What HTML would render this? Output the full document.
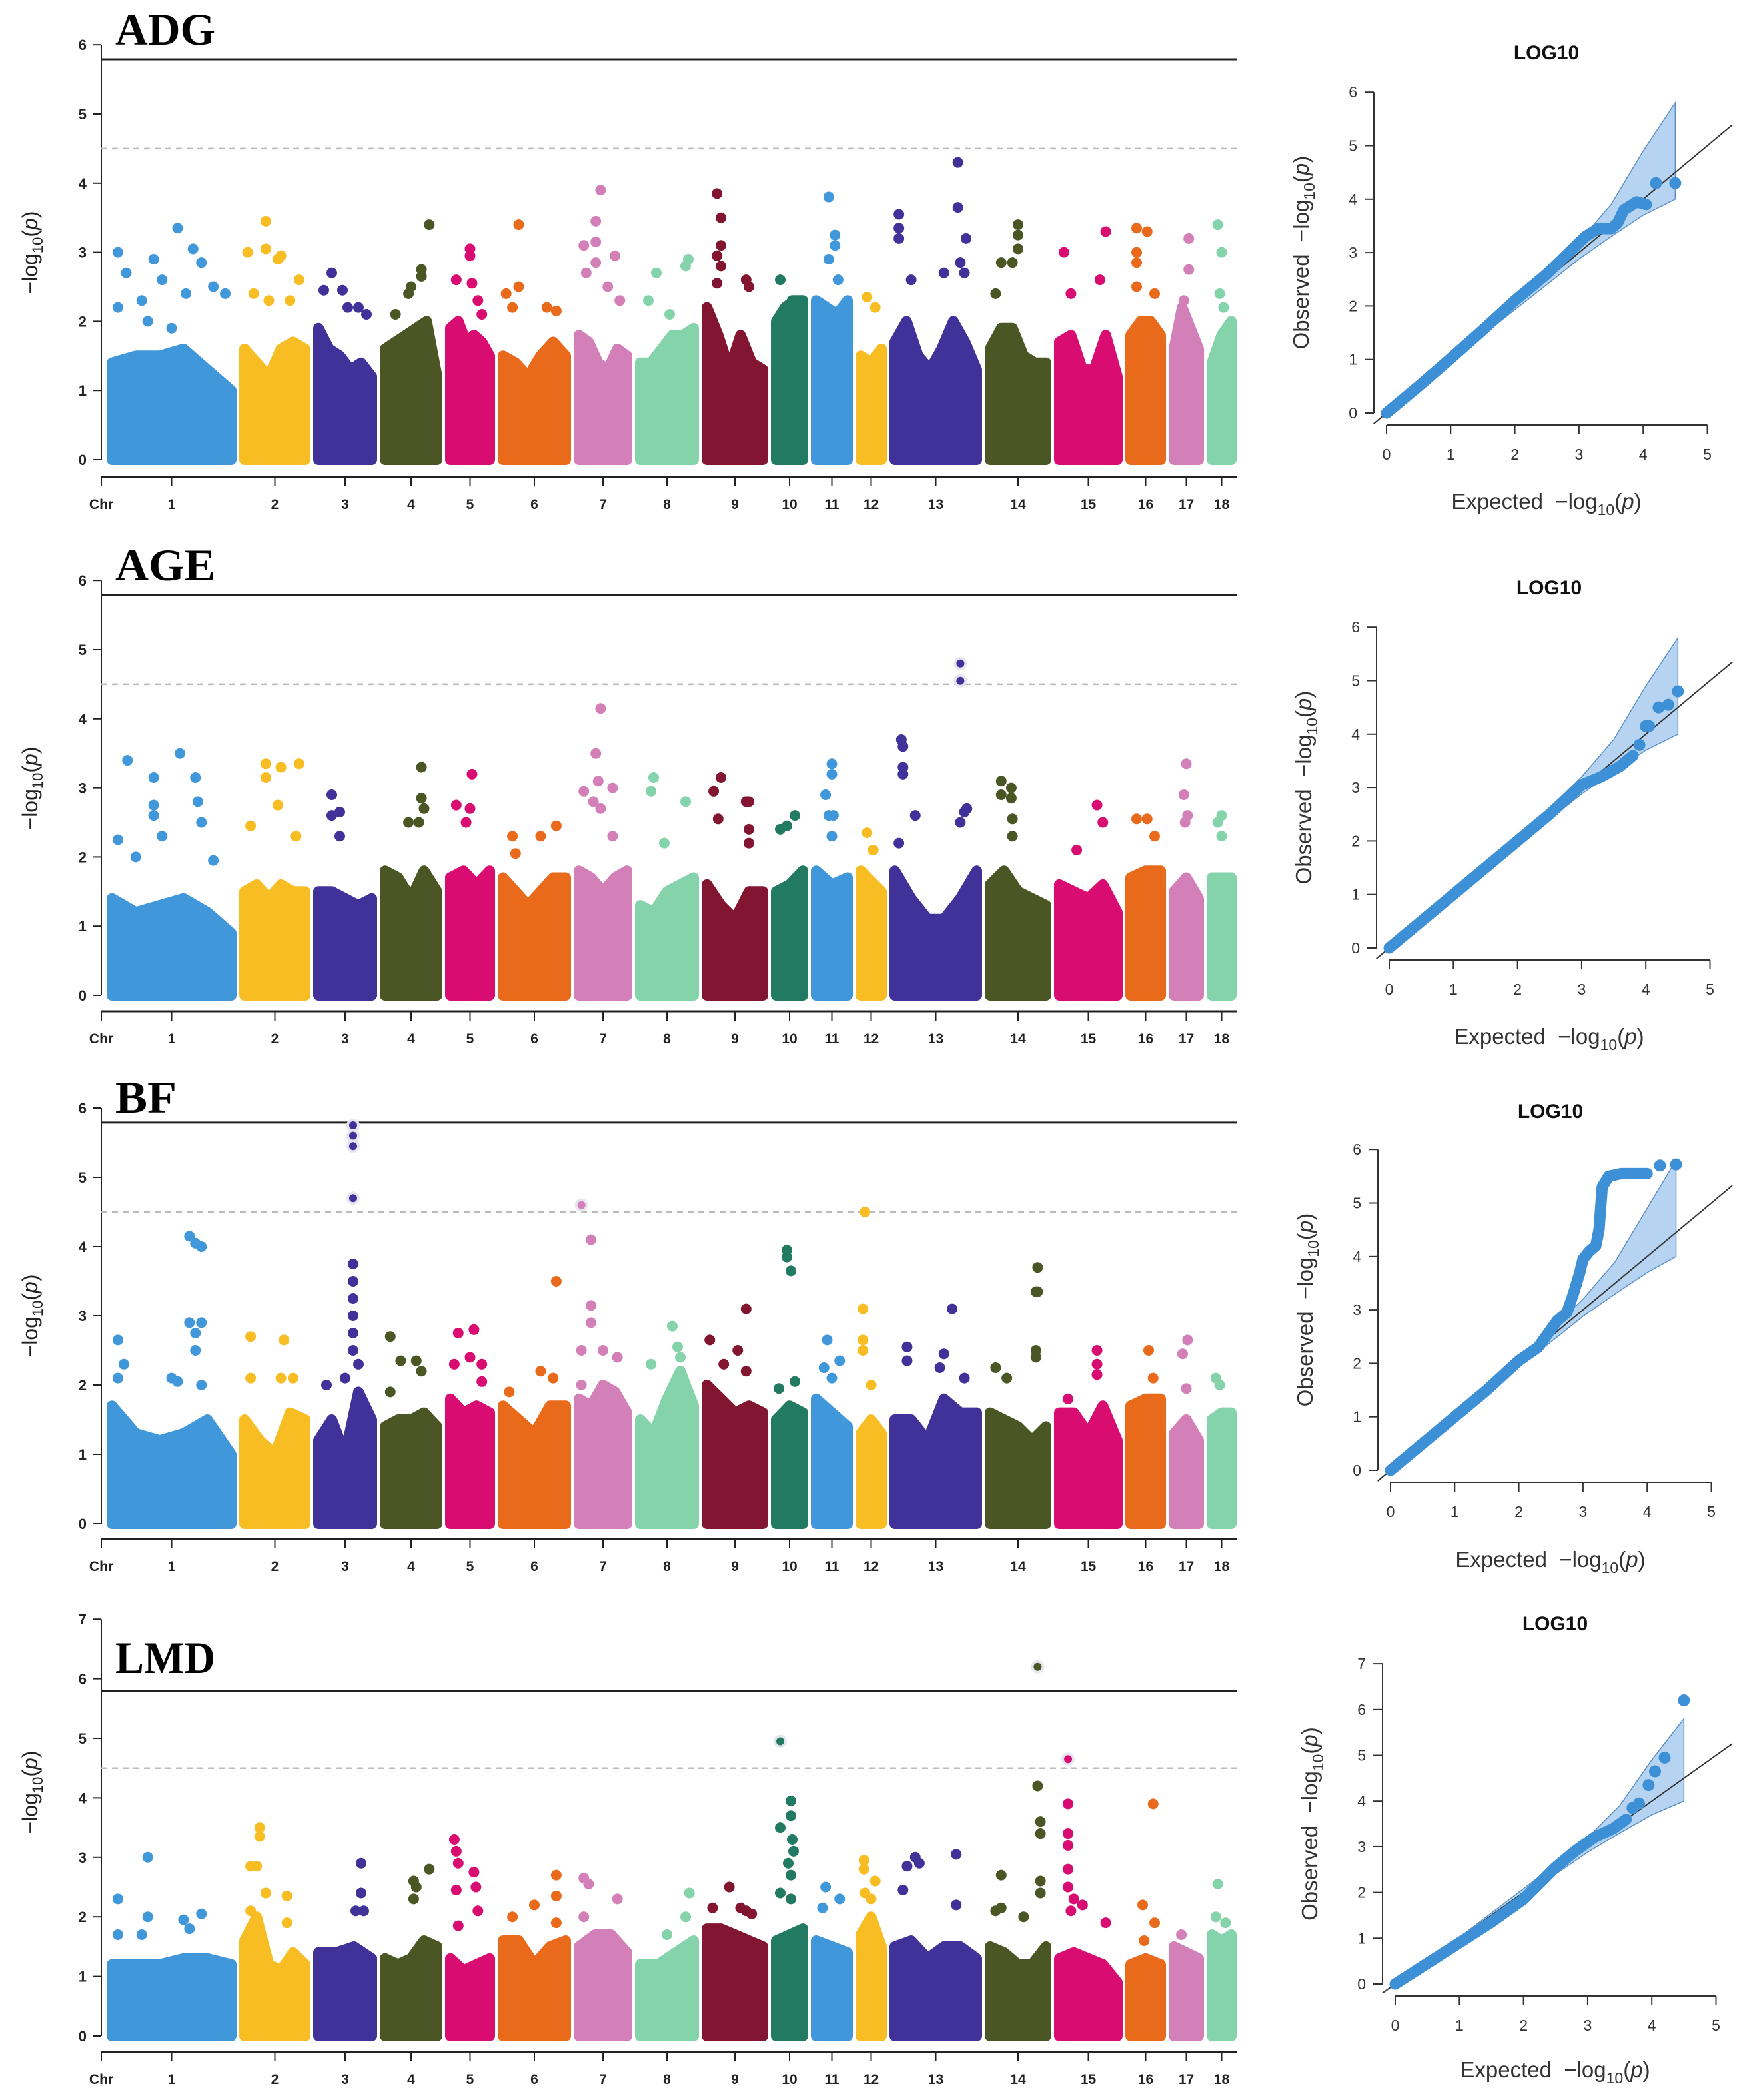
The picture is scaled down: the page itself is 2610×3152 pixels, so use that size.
<!DOCTYPE html>
<html><head><meta charset="utf-8"><title>Manhattan and QQ plots</title>
<style>
html,body{margin:0;padding:0;background:#fff;}
svg{display:block;}
text{font-family:"Liberation Sans",sans-serif;}
text.serif{font-family:"Liberation Serif",serif;}
</style></head>
<body>
<svg id="fig" xmlns="http://www.w3.org/2000/svg" width="2610" height="3152" viewBox="0 0 2610 3152"></svg>
<script>
// ---------- data ----------
const chrNames = ["1","2","3","4","5","6","7","8","9","10","11","12","13","14","15","16","17","18"];
const chrLen = [195,107,96,94,75,110,88,96,100,56,63,47,139,100,103,61,53,45];
const traits = ["ADG","AGE","BF","LMD"];
const suggestiveLine = 4.5;
const genomeLine = 5.79;

// dense-block envelopes (-log10 p) per chromosome
const envADG = [[1.4,1.5,1.5,1.6,1.3,1.0],[1.6,1.4,1.2,1.6,1.7,1.6],[1.9,1.6,1.5,1.3,1.4,1.2],[1.6,1.7,1.8,1.9,2.0,1.2],[1.9,2.0,1.7,1.8,1.7,1.5],[1.5,1.4,1.2,1.5,1.7,1.5],[1.8,1.7,1.4,1.3,1.6,1.5],[1.4,1.4,1.6,1.8,1.8,1.9],[2.2,1.8,1.3,1.8,1.4,1.3],[2.0,2.2,2.3,2.3],[2.3,2.2,2.1,2.3],[1.5,1.4,1.6],[1.7,2.0,1.5,1.3,1.6,2.0,1.7,1.3],[1.6,1.9,1.9,1.5,1.4,1.4],[1.7,1.8,1.3,1.3,1.8,1.2],[1.8,2.0,2.0,1.8],[1.6,2.2,1.9,1.6],[1.4,1.8,2.0]];
const envAGE = [[1.4,1.2,1.3,1.4,1.2,0.9],[1.5,1.6,1.4,1.6,1.5,1.5],[1.5,1.5,1.4,1.3,1.4],[1.8,1.7,1.4,1.8,1.5],[1.7,1.8,1.6,1.8],[1.7,1.5,1.3,1.5,1.7,1.7],[1.8,1.7,1.5,1.7,1.8],[1.3,1.2,1.5,1.6,1.7],[1.6,1.3,1.1,1.5,1.5],[1.5,1.6,1.8],[1.8,1.6,1.7],[1.8,1.5],[1.8,1.4,1.1,1.1,1.4,1.8],[1.6,1.8,1.5,1.4,1.3],[1.6,1.5,1.4,1.6,1.2],[1.7,1.8,1.8],[1.5,1.7,1.4],[1.7,1.7,1.7]];
const envBF = [[1.7,1.3,1.2,1.3,1.5,1.0],[1.5,1.2,1.0,1.6,1.5],[1.2,1.5,1.0,1.9,1.5],[1.4,1.5,1.5,1.6,1.4],[1.8,1.6,1.7,1.6],[1.7,1.5,1.3,1.7,1.7],[1.8,1.7,2.0,1.9,1.6],[1.5,1.3,1.8,2.2,1.7],[2.0,1.8,1.6,1.7,1.6],[1.5,1.7,1.6],[1.8,1.6,1.4],[1.3,1.5,1.3],[1.5,1.5,1.2,1.8,1.6,1.6],[1.6,1.5,1.4,1.2,1.4],[1.6,1.6,1.3,1.7,1.2],[1.7,1.8,1.8],[1.3,1.5,1.2],[1.5,1.6,1.6]];
const envLMD = [[1.2,1.2,1.2,1.3,1.3,1.2],[1.6,2.0,1.2,1.1,1.4,1.2],[1.4,1.4,1.5,1.3],[1.3,1.2,1.3,1.6,1.5],[1.3,1.1,1.2,1.3],[1.6,1.6,1.2,1.5,1.6],[1.5,1.7,1.7,1.4],[1.2,1.2,1.4,1.6],[1.8,1.8,1.7,1.6,1.5],[1.6,1.7,1.8],[1.6,1.5,1.4],[1.7,2.0,1.5],[1.5,1.6,1.3,1.5,1.5,1.3],[1.5,1.4,1.2,1.2,1.5],[1.3,1.4,1.3,1.2,0.9],[1.2,1.3,1.2],[1.5,1.4,1.3],[1.7,1.6,1.7]];

// individual SNPs above the dense band: [chr index, fraction along chr, -log10 p]
const snpADG = [[0,.05,3.0],[0,.12,2.7],[0,.35,2.9],[0,.42,2.6],[0,.55,3.35],[0,.68,3.05],[0,.75,2.85],[0,.85,2.5],[0,.95,2.4],[0,.62,2.4],[0,.25,2.3],[0,.05,2.2],[0,.3,2.0],[0,.5,1.9],
[1,.05,3.0],[1,.35,3.45],[1,.35,3.05],[1,.55,2.9],[1,.6,2.95],[1,.9,2.6],[1,.15,2.4],[1,.4,2.3],[1,.75,2.3],
[2,.25,2.7],[2,.45,2.45],[2,.1,2.45],[2,.55,2.2],[2,.75,2.2],[2,.9,2.1],
[3,.85,3.4],[3,.7,2.75],[3,.7,2.65],[3,.5,2.5],[3,.45,2.4],[3,.2,2.1],
[4,.5,3.05],[4,.5,2.95],[4,.15,2.6],[4,.55,2.55],[4,.7,2.3],[4,.8,2.1],
[5,.25,3.4],[5,.25,2.5],[5,.05,2.4],[5,.15,2.2],[5,.7,2.2],[5,.85,2.15],
[6,.45,3.9],[6,.35,3.45],[6,.35,3.15],[6,.75,2.95],[6,.1,3.1],[6,.35,2.85],[6,.15,2.7],[6,.6,2.5],[6,.85,2.3],
[7,.9,2.9],[7,.3,2.7],[7,.15,2.3],[7,.55,2.1],[7,.85,2.8],
[8,.18,3.85],[8,.25,3.5],[8,.25,3.1],[8,.25,2.8],[8,.18,2.95],[8,.7,2.6],[8,.75,2.5],[8,.18,2.55],
[9,.15,2.6],[9,.6,2.3],
[10,.4,3.8],[10,.6,3.25],[10,.6,3.1],[10,.4,2.9],[10,.7,2.6],
[11,.3,2.35],[11,.7,2.2],
[12,.05,3.55],[12,.05,3.35],[12,.05,3.2],[12,.77,4.3],[12,.77,3.65],[12,.87,3.2],[12,.6,2.7],[12,.8,2.85],[12,.85,2.7],[12,.2,2.6],
[13,.5,3.4],[13,.5,3.25],[13,.5,3.05],[13,.2,2.85],[13,.4,2.85],[13,.1,2.4],
[14,.08,3.0],[14,.8,3.3],[14,.7,2.6],[14,.2,2.4],
[15,.2,3.35],[15,.55,3.3],[15,.2,3.0],[15,.2,2.85],[15,.2,2.5],[15,.8,2.4],
[16,.6,3.2],[16,.6,2.75],[16,.4,2.3],
[17,.3,3.4],[17,.5,3.0],[17,.4,2.4],[17,.6,2.2]];
const snpAGE = [[0,.13,3.4],[0,.57,3.5],[0,.35,3.15],[0,.7,3.15],[0,.35,2.75],[0,.72,2.8],[0,.35,2.6],[0,.75,2.5],[0,.05,2.25],[0,.42,2.3],[0,.2,2.0],[0,.85,1.95],
[1,.35,3.35],[1,.6,3.3],[1,.9,3.35],[1,.35,3.15],[1,.55,2.75],[1,.85,2.3],[1,.1,2.45],
[2,.25,2.9],[2,.25,2.6],[2,.4,2.65],[2,.4,2.3],
[3,.7,3.3],[3,.7,2.85],[3,.75,2.7],[3,.45,2.5],[3,.65,2.5],
[4,.55,3.2],[4,.15,2.75],[4,.5,2.7],[4,.4,2.5],
[5,.15,2.3],[5,.6,2.3],[5,.85,2.45],[5,.2,2.05],
[6,.45,4.15],[6,.35,3.5],[6,.4,3.1],[6,.7,3.0],[6,.1,2.95],[6,.3,2.8],[6,.45,2.7],[6,.7,2.3],
[7,.25,3.15],[7,.2,2.95],[7,.85,2.8],[7,.45,2.2],
[8,.25,3.15],[8,.12,2.95],[8,.7,2.8],[8,.75,2.8],[8,.2,2.55],[8,.75,2.4],[8,.75,2.2],
[9,.7,2.6],[9,.15,2.4],[9,.4,2.45],
[10,.5,3.35],[10,.5,3.2],[10,.3,2.9],[10,.4,2.6],[10,.55,2.6],[10,.5,2.3],
[11,.3,2.35],[11,.6,2.1],
[12,.08,3.7],[12,.1,3.6],[12,.1,3.3],[12,.1,3.2],[12,.8,4.8],[12,.8,4.55],[12,.25,2.6],[12,.8,2.5],[12,.85,2.65],[12,.88,2.7],[12,.05,2.2],
[13,.2,3.1],[13,.38,3.0],[13,.2,2.9],[13,.38,2.85],[13,.4,2.55],[13,.4,2.3],
[14,.65,2.75],[14,.75,2.5],[14,.3,2.1],
[15,.2,2.55],[15,.55,2.55],[15,.8,2.3],
[16,.5,3.35],[16,.4,2.9],[16,.55,2.6],[16,.45,2.5],
[17,.5,2.6],[17,.3,2.5],[17,.5,2.3]];
const snpBF = [[0,.65,4.15],[0,.7,4.05],[0,.75,4.0],[0,.65,2.9],[0,.75,2.9],[0,.7,2.75],[0,.7,2.5],[0,.05,2.65],[0,.1,2.3],[0,.05,2.1],[0,.5,2.1],[0,.55,2.05],[0,.75,2.0],
[1,.1,2.7],[1,.65,2.65],[1,.1,2.1],[1,.6,2.1],[1,.8,2.1],
[2,.65,5.75],[2,.65,5.6],[2,.65,5.45],[2,.65,4.7],[2,.65,3.75],[2,.65,3.5],[2,.65,3.25],[2,.65,3.0],[2,.65,2.75],[2,.65,2.5],[2,.75,2.3],[2,.5,2.1],[2,.15,2.0],
[3,.1,2.7],[3,.3,2.35],[3,.6,2.35],[3,.7,2.2],[3,.1,1.9],
[4,.6,2.8],[4,.2,2.75],[4,.1,2.3],[4,.5,2.4],[4,.8,2.3],[4,.8,2.05],
[5,.85,3.5],[5,.6,2.2],[5,.8,2.1],[5,.1,1.9],
[6,.05,4.6],[6,.25,4.1],[6,.25,3.15],[6,.25,2.9],[6,.05,2.5],[6,.5,2.5],[6,.8,2.4],[6,.05,2.0],
[7,.6,2.85],[7,.7,2.55],[7,.2,2.3],[7,.75,2.4],
[8,.7,3.1],[8,.05,2.65],[8,.55,2.5],[8,.3,2.3],[8,.7,2.2],
[9,.4,3.95],[9,.4,3.85],[9,.55,3.65],[9,.7,2.05],[9,.1,1.95],
[10,.35,2.65],[10,.75,2.35],[10,.25,2.25],[10,.5,2.1],
[11,.2,4.5],[11,.1,3.1],[11,.1,2.65],[11,.1,2.5],[11,.5,2.0],
[12,.7,3.1],[12,.15,2.55],[12,.15,2.35],[12,.6,2.45],[12,.55,2.25],[12,.85,2.1],
[13,.85,3.7],[13,.85,3.35],[13,.82,3.35],[13,.82,2.5],[13,.82,2.4],[13,.1,2.25],[13,.3,2.1],
[14,.65,2.5],[14,.65,2.3],[14,.65,2.15],[14,.15,1.8],
[15,.6,2.5],[15,.75,2.1],
[16,.55,2.65],[16,.35,2.45],[16,.5,1.95],
[17,.2,2.1],[17,.4,2.0]];
const snpLMD = [[0,.3,3.0],[0,.05,2.3],[0,.3,2.0],[0,.6,1.95],[0,.75,2.05],[0,.05,1.7],[0,.25,1.7],[0,.65,1.8],
[1,.25,3.5],[1,.25,3.35],[1,.2,2.85],[1,.1,2.85],[1,.35,2.4],[1,.7,2.35],[1,.1,2.1],[1,.7,1.9],
[2,.8,2.9],[2,.8,2.4],[2,.7,2.1],[2,.85,2.1],
[3,.85,2.8],[3,.55,2.6],[3,.6,2.5],[3,.55,2.3],
[4,.1,3.3],[4,.15,3.1],[4,.2,2.9],[4,.6,2.75],[4,.65,2.5],[4,.15,2.45],[4,.7,2.1],[4,.2,1.85],
[5,.85,2.7],[5,.5,2.2],[5,.85,2.35],[5,.15,2.0],[5,.85,1.9],
[6,.1,2.65],[6,.2,2.55],[6,.8,2.3],[6,.1,2.0],
[7,.92,2.4],[7,.85,2.0],[7,.5,1.7],
[8,.4,2.5],[8,.1,2.15],[8,.7,2.1],[8,.6,2.15],[8,.8,2.05],
[9,.15,4.95],[9,.55,3.95],[9,.55,3.7],[9,.15,3.5],[9,.6,3.3],[9,.65,3.1],[9,.45,2.9],[9,.55,2.7],[9,.15,2.4],[9,.55,2.3],
[10,.3,2.5],[10,.75,2.3],[10,.2,2.15],
[11,.15,2.95],[11,.15,2.8],[11,.7,2.6],[11,.2,2.4],[11,.5,2.3],
[12,.25,3.0],[12,.3,2.9],[12,.15,2.85],[12,.75,3.05],[12,.1,2.45],[12,.75,2.2],
[13,.85,6.2],[13,.85,4.2],[13,.9,3.6],[13,.9,3.4],[13,.2,2.7],[13,.9,2.6],[13,.9,2.4],[13,.1,2.1],[13,.2,2.15],[13,.6,2.0],
[14,.15,4.65],[14,.15,3.9],[14,.15,3.4],[14,.15,3.2],[14,.15,2.8],[14,.15,2.5],[14,.25,2.3],[14,.2,2.1],[14,.4,2.2],[14,.8,1.9],
[15,.75,3.9],[15,.4,2.2],[15,.8,1.9],[15,.45,1.6],
[16,.3,1.7],
[17,.3,2.55],[17,.2,2.0],[17,.7,1.9]];

// QQ data (expected, observed)
const qqExpADG = [0,0.5,1,1.5,2,2.5,2.8,3.1,3.3,3.5,3.6,3.7,3.9,4.05];
const qqObsADG = [0,0.5,1.02,1.55,2.1,2.6,2.95,3.3,3.45,3.45,3.55,3.8,3.95,3.9];
const qqTailExpADG = [4.2,4.5];
const qqTailObsADG = [4.3,4.3];
const qqExpAGE = [0,0.5,1,1.5,2,2.5,3,3.3,3.6,3.8];
const qqObsAGE = [0,0.5,1,1.5,2,2.5,3.05,3.2,3.4,3.6];
const qqTailExpAGE = [3.9,4.0,4.05,4.2,4.35,4.5];
const qqTailObsAGE = [3.8,4.15,4.15,4.5,4.55,4.8];
const qqExpBF = [0,0.5,1,1.5,2,2.3,2.6,2.75,2.85,2.95,3.0,3.1,3.2,3.25,3.3,3.4,3.6,3.8,4.0];
const qqObsBF = [0,0.5,1,1.5,2.05,2.3,2.8,2.95,3.3,3.7,3.95,4.1,4.2,4.5,5.3,5.5,5.55,5.55,5.55];
const qqTailExpBF = [4.2,4.45];
const qqTailObsBF = [5.7,5.72];
const qqExpLMD = [0,0.5,1,1.5,2,2.5,2.8,3.1,3.4,3.6];
const qqObsLMD = [0,0.45,0.9,1.35,1.85,2.55,2.9,3.2,3.4,3.6];
const qqTailExpLMD = [3.7,3.8,3.95,4.05,4.2,4.5];
const qqTailObsLMD = [3.85,3.95,4.35,4.65,4.95,6.2];
// confidence band
const bandExp = [0,1,2,2.5,3,3.5,4,4.5];
const bandUpper = [0,1.02,2.08,2.62,3.2,3.9,4.9,5.8];
const bandLower = [0,0.98,1.93,2.4,2.88,3.3,3.7,4.0];
const bandExpBF = [0,1,2,2.5,3,3.5,4,4.45];
const qqXTicks = [0,1,2,3,4,5];

// ---------- layout ----------
const envs = [envADG,envAGE,envBF,envLMD];
const snps = [snpADG,snpAGE,snpBF,snpLMD];
const qqE = [qqExpADG,qqExpAGE,qqExpBF,qqExpLMD];
const qqO = [qqObsADG,qqObsAGE,qqObsBF,qqObsLMD];
const qqTE = [qqTailExpADG,qqTailExpAGE,qqTailExpBF,qqTailExpLMD];
const qqTO = [qqTailObsADG,qqTailObsAGE,qqTailObsBF,qqTailObsLMD];
const colors = ["#4097d9","#f7bd22","#41329a","#4b5625","#d90c72","#ea6a1c","#d480b8","#84d3ab","#821530","#227a62"];
const panels = [
 {y0:690,unit:103.8,ymax:6,axisY:716,titleY:67,labY:379,qy0:620,qunit:80.3,qymax:6,qx0:2081,qAxisY:638,qTitleY:89,qXLabY:764},
 {y0:1494,unit:103.8,ymax:6,axisY:1518,titleY:871,labY:1183,qy0:1423,qunit:80.3,qymax:6,qx0:2085,qAxisY:1441,qTitleY:892,qXLabY:1567},
 {y0:2287,unit:104,ymax:6,axisY:2310,titleY:1670,labY:1975,qy0:2207,qunit:80.3,qymax:6,qx0:2087,qAxisY:2225,qTitleY:1678,qXLabY:2352},
 {y0:3056,unit:89.4,ymax:7,axisY:3080,titleY:2511,labY:2690,qy0:2978,qunit:68.7,qymax:7,qx0:2094,qAxisY:2996,qTitleY:2447,qXLabY:3118}
];
const X0 = 160, GAP = 4, AXL = 152, AXR = 1857, R = 8;
const NS = "http://www.w3.org/2000/svg";
const svg = document.getElementById('fig');
function mk(tag, attrs, parent){ const e=document.createElementNS(NS,tag); for(const k in attrs) e.setAttribute(k,attrs[k]); (parent||svg).appendChild(e); return e; }
function chrStart(i){ let s=X0; for(let j=0;j<i;j++) s+=chrLen[j]+GAP; return s; }
function chrX(i,f){ const s=chrStart(i); return s+R+f*(chrLen[i]-2*R); }

panels.forEach((p,pi)=>{
  const yv = v => p.y0 - v*p.unit;
  const g = mk('g',{});
  
  
  // title
  const t = mk('text',{x:173,y:p.titleY,'class':'serif','font-weight':'bold','font-size':68,fill:'#000',textLength:150,lengthAdjust:'spacingAndGlyphs'},g);
  if(traits[pi]==='BF') t.setAttribute('textLength',92);
  
  
  t.textContent = traits[pi];
  // y axis
  const ya = mk('line',{x1:AXL,x2:AXL,y1:yv(0),y2:yv(p.ymax),stroke:'#222','stroke-width':2},g);
  
  
  for(let k=0;k<=p.ymax;k++){
    mk('line',{x1:AXL-12,x2:AXL,y1:yv(k),y2:yv(k),stroke:'#222','stroke-width':2},g);
    const tl = mk('text',{x:AXL-22,y:yv(k)+8,'text-anchor':'end','font-size':22,'font-weight':'bold',fill:'#222'},g);
    
    
    tl.textContent = k;
  }
  const yl = mk('text',{transform:`translate(56,${p.labY}) rotate(-90)`,'text-anchor':'middle','font-size':32,fill:'#222'},g);
  
  
  yl.innerHTML = '\u2212log<tspan font-size="22" dy="8">10</tspan><tspan dy="-8">(</tspan><tspan font-style="italic">p</tspan>)';
  // threshold lines
  const sl = mk('line',{x1:AXL,x2:AXR,y1:yv(genomeLine),y2:yv(genomeLine),stroke:'#222','stroke-width':3},g);
  
  
  const dl = mk('line',{x1:AXL,x2:AXR,y1:yv(suggestiveLine),y2:yv(suggestiveLine),stroke:'#bbb','stroke-width':2.5,'stroke-dasharray':'9 7'},g);
  
  
  // x axis
  const xa = mk('line',{x1:AXL,x2:AXR,y1:p.axisY,y2:p.axisY,stroke:'#222','stroke-width':3},g);
  
  
  mk('line',{x1:AXL,x2:AXL,y1:p.axisY,y2:p.axisY+14,stroke:'#222','stroke-width':2},g);
  const cl = mk('text',{x:AXL,y:p.axisY+48,'text-anchor':'middle','font-size':21,'font-weight':'bold',fill:'#222'},g);
  
  
  cl.textContent = 'Chr';
  // chromosomes
  chrLen.forEach((len,i)=>{
    const col = colors[i%10];
    const cx = chrStart(i)+len/2;
    mk('line',{x1:cx,x2:cx,y1:p.axisY,y2:p.axisY+14,stroke:'#222','stroke-width':2},g);
    const lab = mk('text',{x:cx,y:p.axisY+48,'text-anchor':'middle','font-size':21,'font-weight':'bold',fill:'#222'},g);
    
    
    lab.textContent = chrNames[i];
    const env = envs[pi][i];
    const pts = [[chrX(i,0),yv(0)]];
    env.forEach((v,k)=>pts.push([chrX(i,k/(env.length-1)),yv(v)]));
    pts.push([chrX(i,1),yv(0)]);
    const poly = mk('polygon',{points:pts.map(q=>q[0].toFixed(1)+','+q[1].toFixed(1)).join(' '),fill:col,stroke:col,'stroke-width':2*R,'stroke-linejoin':'round'},g);
    
    
  });
  snps[pi].forEach(s=>{
    const col = colors[s[0]%10];
    const big = s[2] > suggestiveLine;
    if(big) mk('circle',{cx:chrX(s[0],s[1]),cy:yv(s[2]),r:R+2,fill:'#e6e6f0'},g);
    const c = mk('circle',{cx:chrX(s[0],s[1]),cy:yv(s[2]),r:big?R-2:R,fill:col},g);
    
    
  });

  // ---------- QQ ----------
  const qg = mk('g',{});
  
  
  const qxu = 96.3;
  const qx = v => p.qx0 + v*qxu;
  const qy = v => p.qy0 - v*p.qunit;
  const qt = mk('text',{x:p.qx0+240,y:p.qTitleY,'text-anchor':'middle','font-size':30,'font-weight':'bold',fill:'#111'},qg);
  
  
  qt.textContent = 'LOG10';
  const qya = mk('line',{x1:p.qx0-19,x2:p.qx0-19,y1:qy(0),y2:qy(p.qymax),stroke:'#333','stroke-width':2},qg);
  
  
  for(let k=0;k<=p.qymax;k++){
    mk('line',{x1:p.qx0-33,x2:p.qx0-19,y1:qy(k),y2:qy(k),stroke:'#333','stroke-width':2},qg);
    const tl = mk('text',{x:p.qx0-44,y:qy(k)+8,'text-anchor':'end','font-size':23,fill:'#333'},qg);
    
    
    tl.textContent = k;
  }
  const qxa = mk('line',{x1:qx(0),x2:qx(5),y1:p.qAxisY,y2:p.qAxisY,stroke:'#333','stroke-width':2},qg);
  
  
  qqXTicks.forEach(k=>{
    mk('line',{x1:qx(k),x2:qx(k),y1:p.qAxisY,y2:p.qAxisY+14,stroke:'#333','stroke-width':2},qg);
    const tl = mk('text',{x:qx(k),y:p.qAxisY+52,'text-anchor':'middle','font-size':23,fill:'#333'},qg);
    
    
    tl.textContent = k;
  });
  const xt = mk('text',{x:p.qx0+240,y:p.qXLabY,'text-anchor':'middle','font-size':33,fill:'#333'},qg);
  
  
  xt.innerHTML = 'Expected \u00a0\u2212log<tspan font-size="23" dy="9">10</tspan><tspan dy="-9">(</tspan><tspan font-style="italic">p</tspan>)';
  const yt = mk('text',{transform:`translate(${p.qx0-117},${(qy(0)+qy(p.qymax))/2}) rotate(-90)`,'text-anchor':'middle','font-size':33,fill:'#333'},qg);
  
  
  yt.innerHTML = 'Observed \u00a0\u2212log<tspan font-size="23" dy="9">10</tspan><tspan dy="-9">(</tspan><tspan font-style="italic">p</tspan>)';
  // band
  const be = pi===2 ? bandExpBF : bandExp;
  const bp = be.map((e,k)=>qx(e)+','+qy(bandUpper[k])).concat(be.slice().reverse().map((e,k)=>qx(e)+','+qy(bandLower[be.length-1-k])));
  const band = mk('polygon',{points:bp.join(' '),fill:'#a9cdee',stroke:'#5a8fc4','stroke-width':1.5,'fill-opacity':0.85},qg);
  
  
  const xmaxLine = (2600 - p.qx0)/qxu;
  const xlim = Math.min(xmaxLine, (p.qy0-40)/p.qunit);
  const dline = mk('line',{x1:qx(-0.2),y1:qy(-0.2),x2:qx(xlim),y2:qy(xlim),stroke:'#333','stroke-width':2},qg);
  
  
  const E = qqE[pi], O = qqO[pi];
  const pl = mk('polyline',{points:E.map((e,k)=>qx(e)+','+qy(O[k])).join(' '),fill:'none',stroke:'#3d8fd6','stroke-width':17,'stroke-linejoin':'round','stroke-linecap':'round'},qg);
  
  
  qqTE[pi].forEach((e,k)=>{
    const c = mk('circle',{cx:qx(e),cy:qy(qqTO[pi][k]),r:9,fill:'#3d8fd6'},qg);
    
    
  });
});
</script>
</body></html>
